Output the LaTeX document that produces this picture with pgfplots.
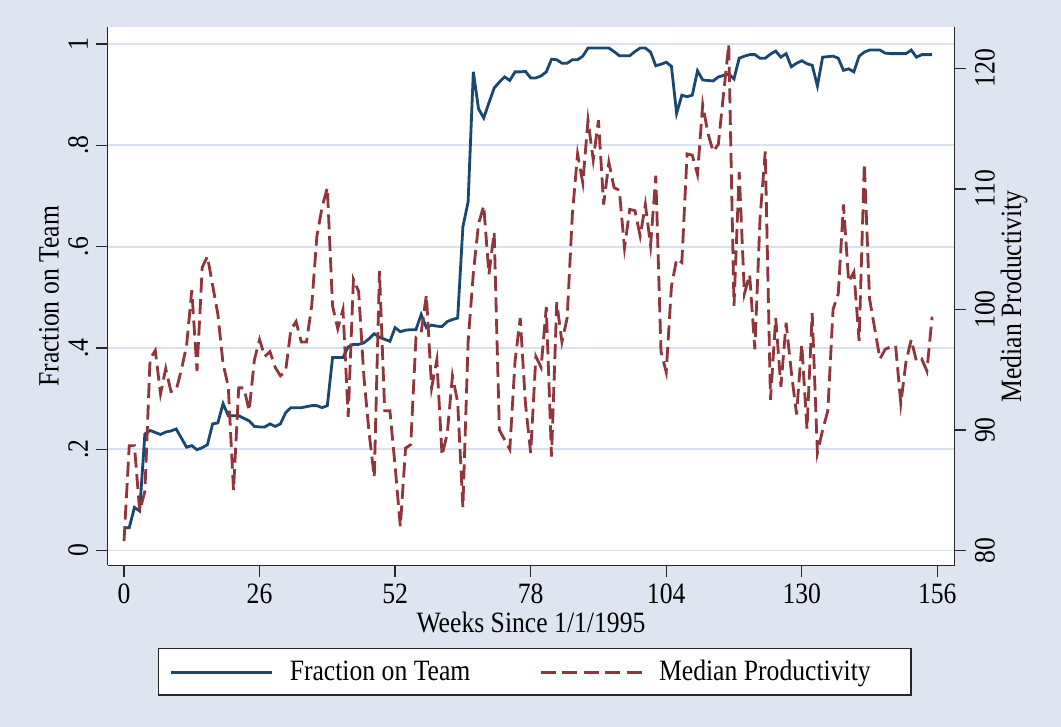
\documentclass[border=0pt]{standalone}
\usepackage{fontspec}
\setmainfont{Liberation Serif}[FakeStretch=0.87]
\usepackage{pgfplots}
\usepackage{pgfplotstable}
\pgfplotsset{compat=1.18}

\definecolor{stbg}{RGB}{222,228,240}
\definecolor{stgrid}{RGB}{218,224,238}
\definecolor{stnavy}{RGB}{26,71,111}
\definecolor{stmaroon}{RGB}{144,53,59}
\newcommand\fsz{\fontsize{29.5bp}{34bp}\selectfont}

% share of workers on teams, by week
\pgfplotstableread{
week frac
0 0.045
1 0.045
2 0.085
3 0.078
4 0.230
5 0.237
6 0.233
7 0.229
8 0.234
9 0.236
10 0.240
11 0.222
12 0.204
13 0.207
14 0.199
15 0.203
16 0.209
17 0.250
18 0.252
19 0.290
20 0.266
21 0.266
22 0.266
23 0.261
24 0.256
25 0.245
26 0.244
27 0.244
28 0.250
29 0.245
30 0.250
31 0.272
32 0.282
33 0.282
34 0.282
35 0.284
36 0.286
37 0.286
38 0.282
39 0.286
40 0.381
41 0.381
42 0.381
43 0.402
44 0.407
45 0.407
46 0.410
47 0.418
48 0.428
49 0.421
50 0.417
51 0.413
52 0.440
53 0.432
54 0.435
55 0.436
56 0.436
57 0.466
58 0.440
59 0.445
60 0.443
61 0.442
62 0.452
63 0.456
64 0.459
65 0.639
66 0.688
67 0.945
68 0.872
69 0.854
70 0.884
71 0.913
72 0.925
73 0.935
74 0.928
75 0.945
76 0.945
77 0.946
78 0.933
79 0.933
80 0.937
81 0.945
82 0.970
83 0.969
84 0.962
85 0.962
86 0.969
87 0.969
88 0.976
89 0.992
90 0.992
91 0.992
92 0.992
93 0.992
94 0.985
95 0.977
96 0.977
97 0.977
98 0.985
99 0.992
100 0.992
101 0.984
102 0.957
103 0.960
104 0.964
105 0.956
106 0.863
107 0.899
108 0.896
109 0.899
110 0.947
111 0.929
112 0.928
113 0.927
114 0.935
115 0.938
116 0.941
117 0.931
118 0.972
119 0.976
120 0.979
121 0.979
122 0.972
123 0.972
124 0.980
125 0.986
126 0.974
127 0.981
128 0.955
129 0.962
130 0.967
131 0.961
132 0.958
133 0.917
134 0.974
135 0.975
136 0.976
137 0.972
138 0.948
139 0.951
140 0.945
141 0.976
142 0.984
143 0.988
144 0.988
145 0.988
146 0.982
147 0.981
148 0.981
149 0.981
150 0.981
151 0.988
152 0.974
153 0.979
154 0.979
155 0.979
}\fractab

% median productivity, by week
\pgfplotstableread{
week prod
0 80.8
1 88.7
2 88.7
3 83.3
4 84.9
5 95.9
6 96.6
7 93.0
8 95.1
9 93.2
10 93.3
11 95.0
12 97.0
13 101.6
14 94.9
15 103.5
16 104.4
17 102.0
18 99.6
19 95.5
20 93.6
21 85.0
22 93.5
23 93.5
24 91.6
25 95.8
26 97.5
27 96.1
28 96.5
29 95.2
30 94.5
31 94.9
32 98.3
33 99.0
34 97.3
35 97.3
36 100.3
37 106.1
38 108.5
39 110.1
40 100.3
41 98.4
42 100.0
43 91.1
44 102.5
45 101.5
46 94.5
47 89.8
48 86.1
49 103.2
50 91.6
51 91.6
52 87.0
53 82.0
54 88.5
55 88.8
56 97.7
57 98.1
58 101.2
59 93.5
60 95.8
61 87.9
62 89.7
63 94.5
64 92.3
65 83.6
66 97.3
67 103.0
68 107.1
69 108.6
70 102.9
71 106.4
72 90.0
73 89.2
74 88.4
75 95.7
76 99.3
77 92.2
78 88.1
79 96.1
80 95.2
81 100.2
82 87.8
83 100.6
84 97.3
85 99.3
86 107.9
87 112.9
88 110.5
89 115.7
90 112.4
91 115.7
92 108.7
93 112.2
94 110.1
95 109.9
96 105.1
97 108.3
98 108.2
99 106.1
100 108.7
101 105.3
102 111.1
103 96.5
104 94.8
105 101.9
106 104.2
107 103.9
108 112.9
109 112.8
110 111.2
111 117.0
112 114.6
113 113.1
114 113.7
115 117.9
116 122.0
117 100.3
118 111.4
119 101.3
120 102.9
121 96.7
122 107.6
123 113.1
124 92.5
125 99.3
126 93.6
127 98.9
128 94.8
129 91.3
130 97.1
131 90.1
132 99.7
133 88.1
134 90.0
135 91.6
136 100.0
137 101.3
138 108.7
139 102.3
140 103.1
141 97.4
142 112.1
143 100.9
144 98.4
145 95.9
146 96.7
147 96.9
148 97.0
149 92.2
150 95.7
151 97.5
152 95.7
153 95.9
154 94.9
155 99.4
}\prodtab

\begin{document}
\begin{tikzpicture}
\fill[stbg] (0,0) rectangle (1061bp,727bp);
\pgfplotsset{
  stbase/.style={
    at={(107.7bp,161.5bp)}, anchor=south west,
    scale only axis, width=846.6bp, height=538.2bp,
    xmin=-3.13, xmax=159.26,
    axis line style={black!85, line width=1.3bp},
    tick align=outside, major tick length=11.7bp,
    tick style={black!85, line width=1.3bp},
    every tick label/.append style={font=\fsz},
    label style={font=\fsz},
    /pgf/number format/assume math mode=true,
  }
}

\begin{axis}[stbase,
  ymin=-0.0296, ymax=1.033,
  axis x line*=bottom, axis y line*=left,
  xtick={0,26,52,78,104,130,156},
  ytick={0,0.2,0.4,0.6,0.8,1},
  yticklabels={0,.2,.4,.6,.8,1},
  xticklabel style={anchor=base, inner sep=0pt},
  xticklabel shift=26.5bp,
  yticklabel style={rotate=90, anchor=base, inner sep=0pt},
  yticklabel shift=8.2bp,
  ymajorgrids, grid style={stgrid, line width=1.8bp},
  axis background/.style={fill=white},
  xlabel={Weeks Since 1/1/1995},
  xlabel style={at={(axis description cs:0.5,-0.1245)}, anchor=base, inner sep=0pt},
  ylabel={Fraction on Team},
  ylabel style={at={(axis description cs:-0.0581,0.5)}, anchor=base, inner sep=0pt},
]
\addplot[stnavy, line width=2.8bp] table[x=week, y=frac] {\fractab};
\end{axis}

\begin{axis}[stbase,
  ymin=78.77, ymax=123.4,
  axis x line=none, axis y line*=right,
  ytick={80,90,100,110,120},
  yticklabel style={rotate=90, anchor=base, inner sep=0pt},
  yticklabel shift=28.7bp,
  ylabel={Median Productivity},
  ylabel style={at={(axis description cs:1.0788,0.5)}, anchor=base, inner sep=0pt},
  legend columns=2,
  legend image code/.code={\draw[#1] (0bp,8.3bp) -- (101bp,8.3bp);},
  legend style={at={(axis description cs:0.05906,-0.15273)}, anchor=north west,
    draw=black!85, line width=1.3bp, fill=white,
    inner xsep=11.6bp, inner ysep=0pt, column sep=0pt, font=\fsz,
    cells={anchor=base west},
    nodes={inner sep=0pt, text depth=14.3bp, text height=32.3bp}},
]
\addlegendimage{stnavy, line width=2.8bp}
\addlegendentry{\makebox[265.5bp][l]{\hspace{16bp}Fraction on Team}}
\addplot[stmaroon, line width=2.8bp, dash pattern=on 15bp off 6.5bp] table[x=week, y=prod] {\prodtab};
\addlegendentry{\makebox[256.3bp][l]{\hspace{16bp}Median Productivity}}
\end{axis}
\end{tikzpicture}
\end{document}
